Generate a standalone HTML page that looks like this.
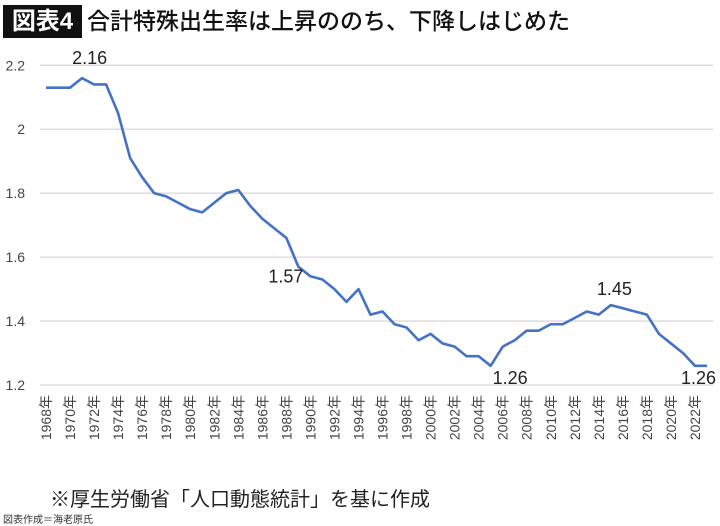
<!DOCTYPE html>
<html><head><meta charset="utf-8">
<style>
body{margin:0;background:#fff;width:720px;height:526px;overflow:hidden;position:relative;font-family:"Liberation Sans","Noto Sans CJK JP",sans-serif;}
#badge{position:absolute;left:3px;top:5px;width:79px;height:33px;background:#111;color:#fff;font-size:24px;font-weight:bold;line-height:33px;text-align:center;}
#title{position:absolute;left:87px;top:5px;font-size:23px;line-height:33px;font-weight:500;color:#111;white-space:nowrap;letter-spacing:0;}
#source{position:absolute;left:50px;top:483px;font-size:20px;color:#222;white-space:nowrap;}
#credit{position:absolute;left:3px;top:511px;font-size:10px;color:#333;white-space:nowrap;}
svg{position:absolute;left:0;top:0;}
</style></head><body>
<div id="badge">図表4</div>
<div id="title">合計特殊出生率は上昇ののち、下降しはじめた</div>
<svg id="chart" width="720" height="526"></svg>
<div id="source">※厚生労働省「人口動態統計」を基に作成</div>
<div id="credit">図表作成＝海老原氏</div>
<script>
const years=[];for(let y=1968;y<=2023;y++)years.push(y);
const values=[2.13,2.13,2.13,2.16,2.14,2.14,2.05,1.91,1.85,1.80,1.79,1.77,1.75,1.74,1.77,1.80,1.81,1.76,1.72,1.69,1.66,1.57,1.54,1.53,1.50,1.46,1.50,1.42,1.43,1.39,1.38,1.34,1.36,1.33,1.32,1.29,1.29,1.26,1.32,1.34,1.37,1.37,1.39,1.39,1.41,1.43,1.42,1.45,1.44,1.43,1.42,1.36,1.33,1.30,1.26,1.26];
const yTicks=[1.2,1.4,1.6,1.8,2,2.2];
const annotations=[{i:3,t:"2.16",dx:-10,dy:-14},{i:21,t:"1.57",dx:-30,dy:16},{i:37,t:"1.26",dx:2,dy:18},{i:47,t:"1.45",dx:-14,dy:-10},{i:54,t:"1.26",dx:-14,dy:18}];
const NS="http://www.w3.org/2000/svg";
const svg=document.getElementById('chart');
const L=40,R=713,T=65.3,B=385;
const step=(R-L)/years.length;
const xs=i=>L+step*(i+0.5);
const ys=v=>B-(v-1.2)/1.0*(B-T);
function mk(tag,attrs){const e=document.createElementNS(NS,tag);for(const k in attrs)e.setAttribute(k,attrs[k]);svg.appendChild(e);return e;}
yTicks.forEach(v=>{
  const g=mk('line',{x1:L,x2:R,y1:ys(v),y2:ys(v),stroke:'#d9d9d9','stroke-width':1.3});
  
  
  const t=mk('text',{x:25,y:ys(v)+5,'text-anchor':'end','font-size':14,fill:'#444','font-family':'Liberation Sans, sans-serif'});
  t.textContent=String(v);
  
  
});
years.forEach((y,i)=>{
  if(y%2!==0)return;
  const x=xs(i);
  const t=mk('text',{x:0,y:0,'text-anchor':'end','font-size':14,fill:'#444',transform:`translate(${x+5},${395}) rotate(-90)`,'font-family':'Liberation Sans, Noto Sans CJK JP, sans-serif'});
  t.textContent=y+'年';
  
  
});
const p=mk('polyline',{points:values.map((v,i)=>xs(i)+','+ys(v)).join(' '),fill:'none',stroke:'#4472c4','stroke-width':2.6,'stroke-linejoin':'round'});


annotations.forEach(a=>{
  const t=mk('text',{x:xs(a.i)+a.dx,y:ys(values[a.i])+a.dy,'font-size':18,fill:'#222','font-family':'Liberation Sans, sans-serif'});
  t.textContent=a.t;
  
  
});
</script>
</body></html>
